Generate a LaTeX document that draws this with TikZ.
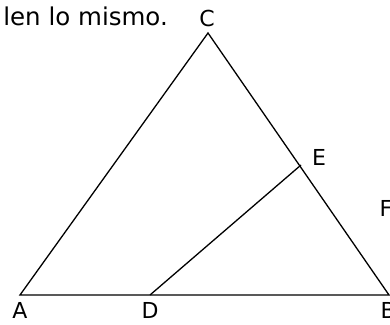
\documentclass[tikz,border=0pt]{standalone}
\usepackage{fontspec}
\setmainfont{DejaVu Sans}
\begin{document}
\begin{tikzpicture}[x=1pt,y=1pt,
  lbl/.style={font=\fontsize{22}{26}\selectfont, inner sep=0pt, text depth=0pt},
  txt/.style={font=\fontsize{24.5}{29}\selectfont, inner sep=0pt},
  edge/.style={line width=1.3pt, line join=miter}]
\useasboundingbox (0,0) rectangle (390,324);
\clip (0,0) rectangle (390,324);
\coordinate (A) at (20,29);
\coordinate (B) at (389,29);
\coordinate (C) at (208,291);
\coordinate (D) at (150,29);
\coordinate (E) at (301,159);
\draw[edge] (A) -- (B) -- (C) -- cycle;
\draw[edge] (D) -- (E);
\node[txt, anchor=base east] (t) at (168,298) {len lo mismo.};
\node[lbl, anchor=base] (lc) at (207,297) {C};
\node[lbl, anchor=base west] (le) at (312,158.5) {E};
\node[lbl, anchor=base] (la) at (20,5.5) {A};
\node[lbl, anchor=base] (ld) at (150,5.5) {D};
\node[lbl, anchor=base west] (lb) at (380.5,5.5) {B};
\node[lbl, anchor=base west] (lf) at (379.5,108) {F};
\end{tikzpicture}
\end{document}
